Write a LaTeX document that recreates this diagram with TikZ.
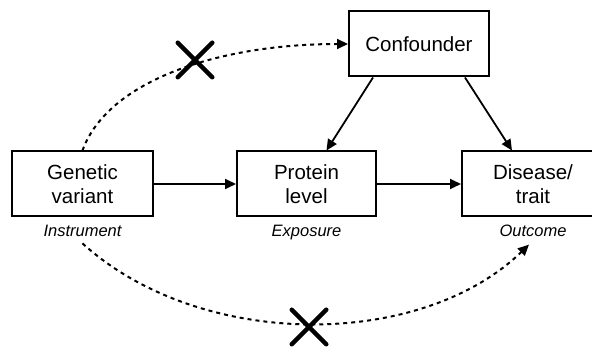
\documentclass[tikz,border=0pt]{standalone}
\usepackage{fontspec}
\setmainfont{Liberation Sans}
\usetikzlibrary{arrows.meta}
\usetikzlibrary{positioning}
\usetikzlibrary{shapes.misc}

\begin{document}
\begin{tikzpicture}[
  x=1pt,y=-1pt,
  every node/.style={font=\fontsize{20.5}{24}\selectfont},
  box/.style={draw,line width=2pt,minimum height=65pt,align=center,inner sep=2pt},
  role/.style={font=\fontsize{16.5}{18}\selectfont\itshape,inner sep=2pt},
  link/.style={line width=1.8pt,-{Triangle[length=11pt,width=10pt]}},
  dotlink/.style={line width=2pt,dash pattern=on 4pt off 4pt,-{Triangle[length=11pt,width=10pt]}},
  blocked/.style={cross out,draw,line width=4.5pt,line cap=round,minimum size=30pt,inner sep=0pt}]
\useasboundingbox (0,0) rectangle (592,352);
\node[box,minimum width=141pt] (gene) at (82.5,184) {Genetic\\variant};
\node[box,minimum width=139pt] (prot) at (306.5,184) {Protein\\level};
\node[box,minimum width=142pt] (dis) at (533,184) {Disease/\\trait};
\node[box,minimum width=140pt] (conf) at (419,44) {Confounder};
\node[role,below=5pt of gene] (instr) {Instrument};
\node[role,below=5pt of prot] (expo) {Exposure};
\node[role,below=5pt of dis] (outc) {Outcome};
% causal arrows
\draw[link] (gene) -- (prot);
\draw[link] (prot) -- (dis);
\draw[link] ([xshift=-46pt]conf.south) -- ([xshift=20pt]prot.north);
\draw[link] ([xshift=46pt]conf.south) -- ([xshift=-21pt]dis.north);
% excluded paths
\draw[dotlink] (gene.north) .. controls (108,80) and (220,44) .. (conf.west);
\draw[dotlink] ([yshift=-5pt]instr.south) .. controls (200,350) and (420,350) .. ([xshift=-4pt,yshift=-6pt]outc.south);
\node[blocked] (cut1) at (195,60) {};
\node[blocked] (cut2) at (309,327) {};
\end{tikzpicture}
\end{document}
